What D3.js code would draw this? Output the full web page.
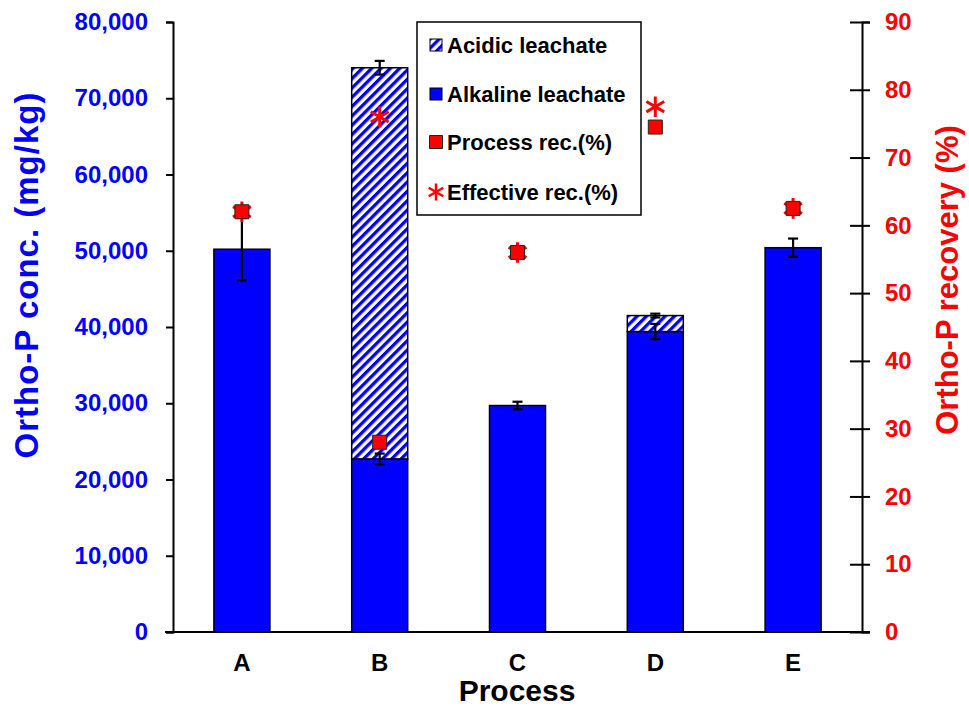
<!DOCTYPE html>
<html>
<head>
<meta charset="utf-8">
<script src="https://cdn.jsdelivr.net/npm/d3@7"></script>
<style>
  body { margin: 0; background: #fff; }
  svg { display: block; font-family: "Liberation Sans", Arial, sans-serif; }
</style>
</head>
<body>
<svg id="chart" width="969" height="709"></svg>
<script>
// Chart values
const processes = ["A", "B", "C", "D", "E"];
const alkaline    = [50200, 22700, 29700, 39400, 50400];
const alkalineErr = [4100, 700, 500, 1000, 1200];
const acidic      = [0, 51300, 0, 2100, 0];
const totalErr    = [0, 900, 0, 250, 0];
const processRec   = [62, 28, 56, 74.5, 62.5];
const effectiveRec = [62, 76, 56, 77.5, 62.5];
const leftTicks  = d3.range(0, 80001, 10000);
const rightTicks = d3.range(0, 91, 10);
const legendLabels = ["Acidic leachate", "Alkaline leachate", "Process rec.(%)", "Effective rec.(%)"];

const svg = d3.select("#chart");
const W = 969, H = 709;
const margin = { top: 22, right: 107, bottom: 77, left: 173 };
const innerW = W - margin.left - margin.right;
const innerH = H - margin.top - margin.bottom;
const g = svg.append("g").attr("transform", `translate(${margin.left},${margin.top})`);

const BLUE = "#0000ff", RED = "#ff0000";

// hatch for the acidic part
const defs = svg.append("defs");
const pat = defs.append("pattern")
  .attr("id", "hatch")
  .attr("patternUnits", "userSpaceOnUse")
  .attr("width", 6.6).attr("height", 6.6)
  .attr("patternTransform", "rotate(45)");
pat.append("rect").attr("width", 6.6).attr("height", 6.6).attr("fill", "#fff");
pat.append("rect").attr("width", 3.3).attr("height", 6.6).attr("fill", BLUE);

// Scales
const x = d3.scaleBand().domain(processes).range([0, innerW]).padding(0);
const y = d3.scaleLinear().domain([0, 80000]).range([innerH, 0]);
const y2 = d3.scaleLinear().domain([0, 90]).range([innerH, 0]);
const barW = 56;
const cx = p => x(p) + x.bandwidth() / 2;

const rows = processes.map((p, i) => ({
  p, alk: alkaline[i], alkErr: alkalineErr[i], acid: acidic[i],
  totErr: totalErr[i], proc: processRec[i], eff: effectiveRec[i]
}));

// Bars: alkaline
g.selectAll("rect.alk")
  .data(rows)
  .join("rect")
    .attr("class", "alk")
    .attr("x", d => cx(d.p) - barW / 2)
    .attr("width", barW)
    .attr("y", d => y(d.alk))
    .attr("height", d => innerH - y(d.alk))
    .attr("fill", BLUE)
    .attr("stroke", "#000")
    .attr("stroke-width", 1.5);

// Bars: acidic, stacked on top
g.selectAll("rect.acid")
  .data(rows.filter(d => d.acid > 0))
  .join("rect")
    .attr("class", "acid")
    .attr("x", d => cx(d.p) - barW / 2)
    .attr("width", barW)
    .attr("y", d => y(d.alk + d.acid))
    .attr("height", d => y(d.alk) - y(d.alk + d.acid))
    .attr("fill", "url(#hatch)")
    .attr("stroke", "#000")
    .attr("stroke-width", 1.5);

// Error bars
function errBar(sel, val, err) {
  const eb = sel.append("g");
  eb.append("line")
    .attr("x1", d => cx(d.p)).attr("x2", d => cx(d.p))
    .attr("y1", d => y(val(d) - err(d))).attr("y2", d => y(val(d) + err(d)));
  [-1, 1].forEach(s => {
    eb.append("line")
      .attr("x1", d => cx(d.p) - 5).attr("x2", d => cx(d.p) + 5)
      .attr("y1", d => y(val(d) + s * err(d))).attr("y2", d => y(val(d) + s * err(d)));
  });
  eb.selectAll("line").attr("stroke", "#000").attr("stroke-width", 2.2);
}
g.selectAll("g.err1").data(rows).join("g").attr("class", "err1")
  .call(errBar, d => d.alk, d => d.alkErr);
g.selectAll("g.err2").data(rows.filter(d => d.acid > 0)).join("g").attr("class", "err2")
  .call(errBar, d => d.alk + d.acid, d => d.totErr);

// Recovery markers
const star = d3.symbol(d3.symbolAsterisk, 300);
const sq = d3.symbol(d3.symbolSquare, 196);
g.selectAll("path.eff")
  .data(rows)
  .join("path")
    .attr("class", "eff")
    .attr("transform", d => `translate(${cx(d.p)},${y2(d.eff)})`)
    .attr("d", star)
    .attr("fill", "none")
    .attr("stroke", RED)
    .attr("stroke-width", 3);
g.selectAll("path.proc")
  .data(rows)
  .join("path")
    .attr("class", "proc")
    .attr("transform", d => `translate(${cx(d.p)},${y2(d.proc)})`)
    .attr("d", sq)
    .attr("fill", RED)
    .attr("stroke", "#222")
    .attr("stroke-width", 1);

// Axes
const yAx = g.append("g")
  .call(d3.axisLeft(y).tickValues(leftTicks).tickFormat(d3.format(",")).tickSizeOuter(0).tickSize(7).tickPadding(18));
yAx.selectAll("text").attr("fill", BLUE).style("font-size", "24px").style("font-weight", "bold");

const y2Ax = g.append("g")
  .attr("transform", `translate(${innerW},0)`)
  .call(d3.axisRight(y2).tickValues(rightTicks).tickSizeOuter(0).tickSize(8).tickPadding(15));
y2Ax.selectAll(".tick line").attr("x1", -12);
y2Ax.selectAll("text").attr("fill", RED).style("font-size", "24px").style("font-weight", "bold");

const xAx = g.append("g")
  .attr("transform", `translate(0,${innerH})`)
  .call(d3.axisBottom(x).tickSize(0).tickPadding(22));
xAx.select(".domain").attr("d", `M-8,0H${innerW + 8}`);
xAx.selectAll("text").attr("fill", "#000").style("font-size", "24px").style("font-weight", "bold");

[yAx, y2Ax, xAx].forEach(a => {
  a.select(".domain").attr("stroke", "#000").attr("stroke-width", 2);
  a.selectAll(".tick line").attr("stroke", "#000").attr("stroke-width", 2);
});

// Axis titles
svg.append("text")
  .attr("transform", `translate(38,275) rotate(-90)`)
  .attr("text-anchor", "middle")
  .attr("fill", BLUE)
  .style("font-size", "33px").style("font-weight", "bold")
  .style("letter-spacing", "1px")
  .text("Ortho-P conc. (mg/kg)");
svg.append("text")
  .attr("transform", `translate(958,280) rotate(-90)`)
  .attr("text-anchor", "middle")
  .attr("fill", RED)
  .style("font-size", "31px").style("font-weight", "bold")
  .text("Ortho-P recovery (%)");
svg.append("text")
  .attr("x", 517).attr("y", 701)
  .attr("text-anchor", "middle")
  .attr("fill", "#000")
  .style("font-size", "30px").style("font-weight", "bold")
  .text("Process");

// Legend
const lg = svg.append("g");
lg.append("rect")
  .attr("x", 417).attr("y", 22).attr("width", 224).attr("height", 193)
  .attr("fill", "#fff").attr("stroke", "#000").attr("stroke-width", 1.5);
const legY = [45, 94, 142, 192];
legendLabels.forEach((lab, i) => {
  const yy = legY[i];
  if (i === 0 || i === 1) {
    lg.append("rect")
      .attr("x", 430).attr("y", yy - 6).attr("width", 12).attr("height", 12)
      .attr("fill", i === 0 ? "url(#hatch)" : BLUE)
      .attr("stroke", "#000").attr("stroke-width", 1);
  } else if (i === 2) {
    lg.append("path")
      .attr("transform", `translate(436,${yy})`)
      .attr("d", d3.symbol(d3.symbolSquare, 169)())
      .attr("fill", RED).attr("stroke", "#222").attr("stroke-width", 1);
  } else {
    lg.append("path")
      .attr("transform", `translate(436,${yy})`)
      .attr("d", d3.symbol(d3.symbolAsterisk, 200)())
      .attr("fill", "none").attr("stroke", RED).attr("stroke-width", 2.5);
  }
  lg.append("text")
    .attr("x", 447).attr("y", yy).attr("dy", "0.36em")
    .attr("fill", "#000")
    .style("font-size", "22px").style("font-weight", "bold")
    .text(lab);
});
</script>
</body>
</html>
